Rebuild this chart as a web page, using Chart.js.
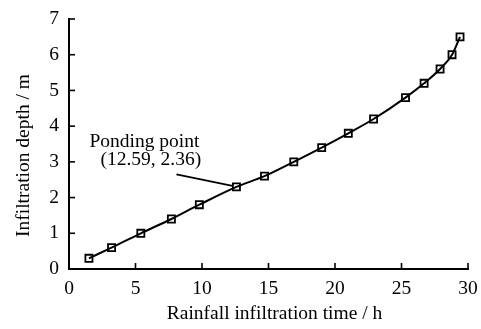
<!DOCTYPE html>
<html>
<head>
<meta charset="utf-8">
<script src="https://cdn.jsdelivr.net/npm/chart.js@4.4.1/dist/chart.umd.min.js"></script>
<style>
html,body{margin:0;padding:0;background:#fff;}
#wrap{width:481px;height:329px;position:relative;}
</style>
</head>
<body>
<div id="wrap"><canvas id="c" width="481" height="329"></canvas></div>
<script>
// Data
const timeHours = [1.5, 3.2, 5.4, 7.7, 9.8, 12.59, 14.7, 16.9, 19.0, 21.0, 22.9, 25.3, 26.7, 27.9, 28.8, 29.4];
const depthMetres = [0.3, 0.6, 1.0, 1.4, 1.8, 2.3, 2.6, 3.0, 3.4, 3.8, 4.2, 4.8, 5.2, 5.6, 6.0, 6.5];
const xTicks = [0, 5, 10, 15, 20, 25, 30];
const yTicks = [0, 1, 2, 3, 4, 5, 6, 7];
const xTitle = 'Rainfall infiltration time / h';
const yTitle = 'Infiltration depth / m';
const pondingPoint = {x: 12.59, y: 2.3, label: ['Ponding point', '(12.59, 2.36)']};

const FONT = 'Liberation Serif, Times New Roman, serif';

const extras = {
  id: 'extras',
  afterDatasetsDraw(chart) {
    const {ctx, scales: {x, y}} = chart;
    ctx.save();
    ctx.strokeStyle = '#000';
    ctx.lineWidth = 1.6;
    const len = 6;
    xTicks.forEach(v => {
      const px = x.getPixelForValue(v);
      ctx.beginPath();
      ctx.moveTo(px, y.bottom);
      ctx.lineTo(px, y.bottom - len);
      ctx.stroke();
    });
    yTicks.forEach(v => {
      const py = y.getPixelForValue(v);
      ctx.beginPath();
      ctx.moveTo(x.left, py);
      ctx.lineTo(x.left + len, py);
      ctx.stroke();
    });
    // annotation
    const mx = x.getPixelForValue(pondingPoint.x);
    const my = y.getPixelForValue(pondingPoint.y);
    ctx.beginPath();
    ctx.moveTo(mx - 60, my - 12.5);
    ctx.lineTo(mx - 4, my - 1);
    ctx.stroke();
    ctx.fillStyle = '#000';
    ctx.font = '19.5px ' + FONT;
    ctx.textBaseline = 'alphabetic';
    ctx.textAlign = 'left';
    ctx.fillText(pondingPoint.label[0], mx - 147, my - 40);
    ctx.fillText(pondingPoint.label[1], mx - 136, my - 22);
    // axis titles
    ctx.textAlign = 'center';
    ctx.fillText(xTitle, 274.5, 319);
    ctx.translate(24, 155.5);
    ctx.rotate(-Math.PI / 2);
    ctx.textBaseline = 'middle';
    ctx.fillText(yTitle, 0, 0);
    ctx.restore();
  }
};

new Chart(document.getElementById('c'), {
  type: 'line',
  data: {
    datasets: [{
      data: timeHours.map((t, i) => ({x: t, y: depthMetres[i]})),
      borderColor: '#000',
      borderWidth: 2,
      tension: 0.3,
      cubicInterpolationMode: 'monotone',
      pointStyle: 'rect',
      pointRadius: 5,
      pointBorderWidth: 1.8,
      pointBorderColor: '#000',
      pointBackgroundColor: 'rgba(0,0,0,0)',
      fill: false
    }]
  },
  options: {
    responsive: false,
    animation: false,
    devicePixelRatio: 1,
    layout: {padding: {top: 19, right: 13, left: 0, bottom: 0}},
    plugins: {legend: {display: false}, tooltip: {enabled: false}},
    scales: {
      x: {
        type: 'linear', min: 0, max: 30,
        afterBuildTicks(s) { s.ticks = xTicks.map(v => ({value: v})); },
        afterFit(s) { s.height = 60; s.paddingLeft = 0; s.paddingRight = 0; },
        grid: {display: true, drawOnChartArea: false, drawTicks: false},
        border: {display: true, color: '#000', width: 2},
        ticks: {color: '#000', font: {family: FONT, size: 19.5}, padding: 8, maxRotation: 0}
      },
      y: {
        type: 'linear', min: 0, max: 7,
        afterBuildTicks(s) { s.ticks = yTicks.map(v => ({value: v})); },
        afterFit(s) { s.width = 69; s.paddingTop = 0; s.paddingBottom = 0; },
        grid: {display: true, drawOnChartArea: false, drawTicks: false},
        border: {display: true, color: '#000', width: 2},
        ticks: {color: '#000', font: {family: FONT, size: 19.5}, padding: 10}
      }
    }
  },
  plugins: [extras]
});
</script>
</body>
</html>
